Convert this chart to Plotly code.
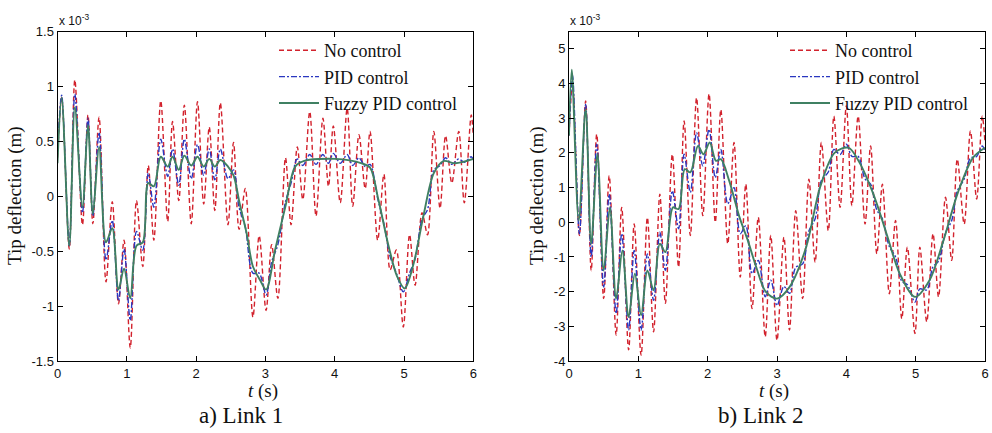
import plotly.graph_objects as go

# ---------------- data (values in units of 1e-3 m) ----------------
# Link 1
t1_nc = [0, 0.06, 0.17, 0.25, 0.36, 0.44, 0.51, 0.60, 0.70, 0.79, 0.88, 0.96, 1.05, 1.14, 1.23, 1.31, 1.39,
         1.49, 1.59, 1.66, 1.75, 1.83, 1.93, 2.02, 2.11, 2.19, 2.27, 2.35, 2.46, 2.54, 2.62, 2.71, 2.82, 2.91,
         3.01, 3.09, 3.18, 3.29, 3.37, 3.46, 3.54, 3.64, 3.73, 3.83, 3.91, 3.98, 4.08, 4.18, 4.26, 4.35, 4.44,
         4.51, 4.62, 4.71, 4.80, 4.89, 4.99, 5.08, 5.16, 5.26, 5.34, 5.43, 5.52, 5.60, 5.69, 5.79, 5.87, 5.97, 6.0]
y1_nc = [0.35, 0.90, -0.48, 1.06, -0.26, 0.74, -0.25, 0.72, -0.78, -0.05, -0.98, -0.40, -1.38, -0.04, -0.64, 0.28, -0.40,
         0.87, -0.23, 0.68, -0.04, 0.83, -0.25, 0.86, -0.07, 0.63, -0.13, 0.85, -0.26, 0.49, -0.30, 0.07, -1.10, -0.36,
         -1.04, -0.44, -0.93, 0.35, -0.26, 0.45, -0.03, 0.77, -0.18, 0.71, 0.09, 0.64, -0.06, 0.80, -0.09, 0.56, 0.07,
         0.59, -0.40, 0.20, -0.67, -0.49, -1.19, -0.35, -0.81, -0.15, -0.35, 0.59, -0.11, 0.55, 0.12, 0.59, -0.06, 0.74, 0.55]

t1_pid = t1_nc
y1_pid = [0.40, 0.92, -0.45, 0.93, -0.15, 0.71, -0.18, 0.58, -0.58, -0.22, -0.95, -0.48, -1.13, -0.32, -0.49, 0.21, -0.10,
          0.52, 0.18, 0.43, 0.10, 0.52, 0.16, 0.47, 0.19, 0.43, 0.15, 0.43, 0.16, 0.24, -0.10, -0.28, -0.70, -0.70,
          -0.90, -0.60, -0.44, -0.05, 0.12, 0.34, 0.28, 0.38, 0.29, 0.38, 0.30, 0.39, 0.30, 0.38, 0.28, 0.35, 0.27,
          0.29, -0.02, -0.25, -0.55, -0.70, -0.87, -0.70, -0.57, -0.21, -0.12, 0.24, 0.28, 0.35, 0.29, 0.34, 0.31, 0.36, 0.33]

t1_fz = [0, 0.06, 0.17, 0.25, 0.36, 0.44, 0.51, 0.60, 0.70, 0.79, 0.88, 0.96, 1.05, 1.14, 1.23, 1.31, 1.39,
         1.49, 1.59, 1.66, 1.75, 1.83, 1.93, 2.02, 2.11, 2.19, 2.27, 2.35, 2.46, 2.54, 2.63, 2.73, 2.82, 2.92,
         3.01, 3.14, 3.29, 3.43, 3.55, 4.01, 4.39, 4.51, 4.63, 4.78, 4.90, 5.01, 5.14, 5.28, 5.43, 5.57, 5.74, 6.0]
y1_fz = [0.30, 0.90, -0.45, 0.81, -0.10, 0.65, -0.16, 0.45, -0.42, -0.29, -0.85, -0.66, -0.93, -0.45, -0.42, 0.12, 0.09,
         0.36, 0.27, 0.36, 0.24, 0.37, 0.28, 0.36, 0.27, 0.34, 0.27, 0.33, 0.27, 0.19, -0.07, -0.34, -0.64, -0.76,
         -0.85, -0.49, -0.09, 0.27, 0.32, 0.34, 0.30, 0.26, -0.03, -0.46, -0.73, -0.84, -0.61, -0.18, 0.21, 0.32, 0.30, 0.34]

# Link 2
t2_nc = [0, 0.05, 0.15, 0.24, 0.32, 0.40, 0.50, 0.58, 0.68, 0.76, 0.86, 0.94, 1.04, 1.13, 1.22, 1.31, 1.39,
         1.49, 1.58, 1.66, 1.75, 1.84, 1.93, 2.02, 2.11, 2.19, 2.29, 2.38, 2.47, 2.55, 2.64, 2.73, 2.83, 2.91,
         3.00, 3.10, 3.18, 3.27, 3.37, 3.46, 3.55, 3.64, 3.74, 3.82, 3.91, 4.00, 4.08, 4.17, 4.27, 4.35, 4.44,
         4.52, 4.62, 4.71, 4.80, 4.88, 4.99, 5.06, 5.16, 5.25, 5.33, 5.43, 5.52, 5.60, 5.70, 5.79, 5.88, 5.96, 6.0]
y2_nc = [2.5, 4.0, -0.38, 3.5, -1.39, 2.54, -2.2, 1.34, -3.25, 0.43, -3.68, -0.05, -3.83, 0.14, -3.16, 0.81, -2.34,
         1.96, -1.29, 2.92, -0.38, 3.59, 0.19, 3.70, 0.0, 3.25, -0.62, 2.30, -1.58, 1.10, -2.49, 0.14, -3.30, -0.38,
         -3.40, -0.43, -3.11, 0.33, -2.20, 1.24, -1.15, 2.30, -0.24, 3.06, 0.43, 3.35, 0.48, 3.06, -0.05, 2.20, -0.91,
         1.10, -2.06, 0.05, -2.78, -0.72, -3.21, -0.72, -2.87, -0.33, -2.15, 0.72, -1.10, 1.82, -0.05, 2.63, 0.67, 3.06, 2.3]

t2_pid = t2_nc
y2_pid = [2.5, 4.25, -0.33, 3.40, -1.0, 2.25, -1.87, 0.81, -2.63, -0.33, -3.11, -0.81, -3.11, -0.91, -2.25, -0.29, -1.39,
          0.91, -0.19, 1.96, 0.86, 2.58, 1.63, 2.68, 1.29, 2.10, 0.53, 1.0, -0.33, -0.10, -1.48, -1.10, -2.15, -1.67,
          -2.40, -1.85, -2.05, -1.30, -1.20, -0.25, 0.10, 1.20, 1.45, 2.10, 1.95, 2.25, 1.90, 1.90, 1.25, 1.10, 0.35,
          0.10, -0.70, -1.0, -1.70, -1.80, -2.30, -1.92, -1.95, -1.28, -1.12, -0.30, 0.05, 0.90, 1.25, 1.85, 1.90, 2.20, 2.05]

t2_fz = [0, 0.04, 0.14, 0.24, 0.32, 0.41, 0.50, 0.59, 0.68, 0.77, 0.86, 0.95, 1.04, 1.13, 1.22, 1.31, 1.39,
         1.50, 1.58, 1.67, 1.75, 1.86, 1.94, 2.03, 2.12, 2.19, 2.31, 2.46, 2.58, 2.70, 2.84, 3.0, 3.18, 3.42,
         3.62, 3.83, 4.03, 4.19, 4.39, 4.58, 4.77, 4.99, 5.2, 5.4, 5.61, 5.83, 6.0]
y2_fz = [2.5, 4.4, 0.05, 3.25, -0.62, 1.96, -1.39, 0.43, -2.2, -0.81, -2.73, -1.48, -2.68, -1.39, -1.96, -0.62, -0.86,
         0.43, 0.38, 1.53, 1.44, 2.2, 1.96, 2.3, 1.77, 1.82, 1.2, 0.14, -0.53, -1.29, -2.01, -2.2, -1.87, -0.72,
         1.0, 2.0, 2.15, 1.72, 0.81, -0.33, -1.48, -2.15, -1.67, -0.53, 0.86, 1.87, 2.15]

series_names = ["No control", "PID control", "Fuzzy PID control"]
x_ticks = [0, 1, 2, 3, 4, 5, 6]
y1_ticks = [-1.5, -1, -0.5, 0, 0.5, 1, 1.5]
y2_ticks = [-4, -3, -2, -1, 0, 1, 2, 3, 4, 5]

# ---------------- styling ----------------
W, H = 992, 433
RED, BLUE, GREEN = "#d2222d", "#2a37c0", "#3f8062"
SERIF = "Liberation Serif, Times New Roman, serif"
SANS = "Liberation Sans, Arial, sans-serif"

def px(x):
    return x / W

def py(y):
    return 1 - y / H

fig = go.Figure()

styles = [
    dict(color=RED, width=1.4, dash="5px,3px"),
    dict(color=BLUE, width=1.4, dash="6px,2px,2px,2px"),
    dict(color=GREEN, width=1.9),
]

panels = [
    ("x", "y", "legend", [(t1_nc, y1_nc), (t1_pid, y1_pid), (t1_fz, y1_fz)]),
    ("x2", "y2", "legend2", [(t2_nc, y2_nc), (t2_pid, y2_pid), (t2_fz, y2_fz)]),
]
for xa, ya, lg, data in panels:
    for name, st, (tt, vv) in zip(series_names, styles, data):
        fig.add_trace(go.Scatter(
            x=tt, y=vv, mode="lines", name=name, xaxis=xa, yaxis=ya, legend=lg,
            line=dict(shape="spline", smoothing=0.9, **st),
        ))

axis_common = dict(
    showline=True, linecolor="black", linewidth=1, mirror="allticks",
    ticks="inside", ticklen=5, tickcolor="black", showgrid=False, zeroline=False,
    tickfont=dict(family=SANS, size=13, color="#111"), automargin=False,
)

legend_common = dict(xanchor="left", yanchor="top", bgcolor="rgba(0,0,0,0)",
                     font=dict(family=SERIF, size=18, color="#111"), itemwidth=40,
                     tracegroupgap=0, borderwidth=0)

fig.update_layout(
    width=W, height=H, autosize=False,
    margin=dict(l=0, r=0, t=0, b=0, pad=0, autoexpand=False),
    paper_bgcolor="white", plot_bgcolor="white",
    xaxis=dict(domain=[px(57.5), px(473.3)], range=[0, 6], tickvals=x_ticks, anchor="y", **axis_common),
    yaxis=dict(domain=[py(361), py(31.5)], range=[-1.5, 1.5], tickvals=y1_ticks,
               ticktext=[f"{v:g}" for v in y1_ticks], anchor="x", **axis_common),
    xaxis2=dict(domain=[px(569), px(985)], range=[0, 6], tickvals=x_ticks, anchor="y2", **axis_common),
    yaxis2=dict(domain=[py(361), py(31.5)], range=[-4, 5.5], tickvals=y2_ticks,
                ticktext=[f"{v:g}" for v in y2_ticks], anchor="x2", **axis_common),
    legend=dict(x=px(274), y=py(32), **legend_common),
    legend2=dict(x=px(785), y=py(32), **legend_common),
    showlegend=True,
)

annots = [
    dict(text="x 10<sup>-3</sup>", x=px(57), y=py(20), xanchor="left", yanchor="middle",
         font=dict(family=SANS, size=12, color="#111")),
    dict(text="x 10<sup>-3</sup>", x=px(568), y=py(20), xanchor="left", yanchor="middle",
         font=dict(family=SANS, size=12, color="#111")),
    dict(text="Tip deflection (m)", x=px(15), y=py(196), textangle=-90, xanchor="center", yanchor="middle",
         font=dict(family=SERIF, size=19, color="#111")),
    dict(text="Tip deflection (m)", x=px(537), y=py(196), textangle=-90, xanchor="center", yanchor="middle",
         font=dict(family=SERIF, size=19, color="#111")),
    dict(text="<i>t</i> (s)", x=px(263), y=py(391), xanchor="center", yanchor="middle",
         font=dict(family=SERIF, size=19, color="#111")),
    dict(text="<i>t</i> (s)", x=px(774), y=py(391), xanchor="center", yanchor="middle",
         font=dict(family=SERIF, size=19, color="#111")),
    dict(text="a) Link 1", x=px(241), y=py(415), xanchor="center", yanchor="middle",
         font=dict(family=SERIF, size=23, color="#111")),
    dict(text="b) Link 2", x=px(761), y=py(415), xanchor="center", yanchor="middle",
         font=dict(family=SERIF, size=23, color="#111")),
]
for a in annots:
    fig.add_annotation(xref="paper", yref="paper", showarrow=False, **a)

fig.write_html(
    "out.html",
    config={"displayModeBar": False},
    post_script="document.body.style.margin='0';document.body.style.padding='0';"
                "document.body.style.overflow='hidden';",
)
